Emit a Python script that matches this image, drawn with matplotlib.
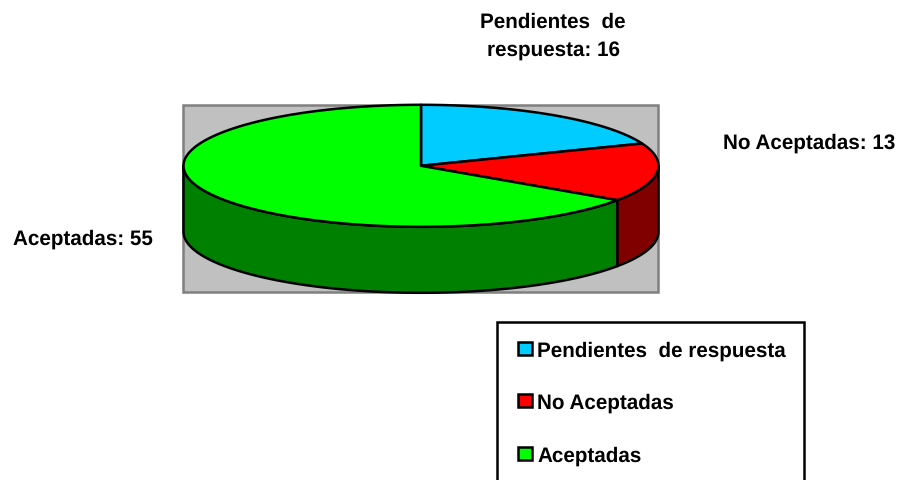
"""Tarta 3D de estado de las solicitudes"""
import numpy as np
import matplotlib
matplotlib.use('Agg')
import matplotlib.pyplot as plt
from matplotlib.patches import Polygon, Rectangle

plt.rcParams['font.family'] = ['Liberation Sans', 'DejaVu Sans']
plt.rcParams['text.hinting'] = 'none'

categories = ['Pendientes  de respuesta', 'No Aceptadas', 'Aceptadas']
values = [16, 13, 55]
top_colors = ['#00CCFF', '#FF0000', '#00FF00']
side_colors = ['#006680', '#800000', '#008000']

W, H = 901, 481
CX, CY, RX, RY, DEPTH = 421, 166.8, 237.5, 61, 66
LW = 1.8


def ellipse_pts(a0, a1, dy=0.0):
    """Puntos del borde; el angulo va en horario desde arriba"""
    t = np.radians(np.linspace(a0, a1, max(int(abs(a1 - a0)) * 2, 2)))
    return np.column_stack([CX + RX * np.sin(t), CY + dy - RY * np.cos(t)])


fig = plt.figure(figsize=(W / 100, H / 100), dpi=100)
ax = fig.add_axes([0, 0, 1, 1])
ax.set_xlim(0, W)
ax.set_ylim(H, 0)
ax.axis('off')

# fondo gris
ax.add_patch(Rectangle((183, 105.5), 475, 187.5, fc='#C0C0C0', ec='#808080', lw=LW))

edges = np.concatenate([[0], np.cumsum(values)]) / sum(values) * 360

# caras laterales, solo la parte delantera (90..270)
for a0, a1, col in zip(edges[:-1], edges[1:], side_colors):
    lo, hi = max(a0, 90), min(a1, 270)
    if lo >= hi:
        continue
    pts = np.vstack([ellipse_pts(lo, hi), ellipse_pts(hi, lo, DEPTH)])
    ax.add_patch(Polygon(pts, closed=True, fc=col, ec='black', lw=LW, joinstyle='round'))

# caras superiores
for a0, a1, col in zip(edges[:-1], edges[1:], top_colors):
    pts = np.vstack([[CX, CY], ellipse_pts(a0, a1)])
    ax.add_patch(Polygon(pts, closed=True, fc=col, ec='black', lw=LW, joinstyle='round'))

# etiquetas
label_kw = dict(fontsize=14.9, fontweight='bold', color='black', va='center')
ax.text(553, 37, 'Pendientes  de\nrespuesta: %d' % values[0], ha='center',
        linespacing=1.6, **label_kw)
ax.text(809, 143, 'No Aceptadas: %d' % values[1], ha='center', **label_kw)
ax.text(83, 239, 'Aceptadas: %d' % values[2], ha='center', **label_kw)

# leyenda
ax.add_patch(Rectangle((497, 322.5), 307, 170, fc='white', ec='black', lw=LW))
for cat, col, y in zip(categories, top_colors, [351, 403, 456]):
    ax.add_patch(Rectangle((518, y - 8), 14, 13, fc=col, ec='black', lw=LW))
    ax.text(537, y, cat, ha='left', **label_kw)

fig.savefig('out.png', dpi=100)
